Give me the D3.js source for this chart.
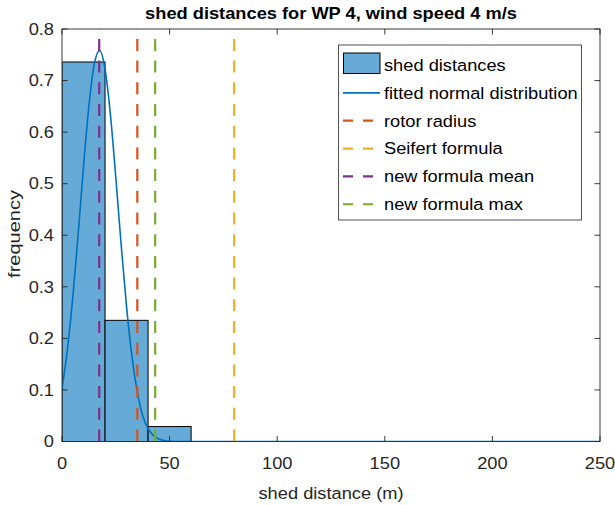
<!DOCTYPE html>
<html><head><meta charset="utf-8">
<script src="https://cdn.jsdelivr.net/npm/d3@7"></script>
<style>body{margin:0;background:#fff}svg{display:block}</style>
</head><body>
<script>
// ---- data ----
const binEdges = [0, 20, 40, 60];
const binFreq = [0.736, 0.235, 0.029];
const fitX = [0, 2.5, 5, 7.5, 10, 12.5, 15, 17.5, 20, 22.5, 25, 27.5, 30, 32.5, 35, 37.5, 40, 42.5, 45, 47.5, 50, 55, 60, 250];
const fitY = [0.102, 0.178, 0.279, 0.402, 0.533, 0.651, 0.732, 0.758, 0.722, 0.634, 0.512, 0.381, 0.261, 0.165, 0.096, 0.050, 0.025, 0.0114, 0.0048, 0.0018, 0.0006, 0.0001, 0, 0];
const refNames = ["rotor radius", "Seifert formula", "new formula mean", "new formula max"];
const refValues = [35, 80, 17.3, 43.3];
const refColors = ["#d95319", "#edb120", "#7e2f8e", "#77ac30"];
const xTicks = [0, 50, 100, 150, 200, 250];
const yTicks = [0, 0.1, 0.2, 0.3, 0.4, 0.5, 0.6, 0.7, 0.8];
const legendNames = ["shed distances", "fitted normal distribution"].concat(refNames);

const W = 615, H = 505;
const L = 62, R = 600, T = 29, B = 441.5;
const SX = 1.12, FS = 16.3;
const svg = d3.select("body").append("svg").attr("width", W).attr("height", H)
  .style("font-family", "'Liberation Sans', Arial, Helvetica, sans-serif");

const x = d3.scaleLinear().domain([0, 250]).range([L, R]);
const y = d3.scaleLinear().domain([0, 0.8]).range([B, T]);

function txt(g, px, py, s, anchor, opts = {}) {
  const tr = opts.rot
    ? `translate(${px},${py}) rotate(-90) scale(${opts.sx || SX},1)`
    : `translate(${px},${py}) scale(${opts.sx || SX},1)`;
  const t = g.append("text")
    .attr("transform", tr)
    .attr("text-anchor", anchor)
    .attr("font-size", opts.fs || FS)
    .attr("fill", opts.fill || "#262626")
    .text(s);
  if (opts.bold) t.attr("font-weight", "bold");
  return t;
}

svg.append("defs").append("clipPath").attr("id", "clip")
  .append("rect").attr("x", L).attr("y", T).attr("width", R - L).attr("height", B - T);
const plot = svg.append("g").attr("clip-path", "url(#clip)");

// histogram bars
plot.selectAll("rect.bar").data(binFreq).enter().append("rect")
  .attr("class", "bar")
  .attr("x", (d, i) => x(binEdges[i]))
  .attr("width", (d, i) => x(binEdges[i + 1]) - x(binEdges[i]))
  .attr("y", d => y(d))
  .attr("height", d => y(0) - y(d))
  .attr("fill", "#66aad7").attr("stroke", "#000").attr("stroke-width", 1);

// fitted normal curve
const fitPts = fitX.map((v, i) => [v, fitY[i]]);
plot.append("path").datum(fitPts)
  .attr("d", d3.line().x(d => x(d[0])).y(d => y(d[1])).curve(d3.curveMonotoneX))
  .attr("fill", "none").attr("stroke", "#0072bd").attr("stroke-width", 1.6);

// reference lines
refValues.forEach((v, i) => {
  plot.append("line")
    .attr("x1", x(v)).attr("x2", x(v)).attr("y1", y(0)).attr("y2", y(0.8))
    .attr("stroke", refColors[i]).attr("stroke-width", 2.2)
    .attr("stroke-dasharray", "12,9.7");
});

// axes box and ticks
const ax = svg.append("g").attr("stroke", "#262626").attr("stroke-width", 0.9);
ax.append("rect").attr("x", L).attr("y", T).attr("width", R - L).attr("height", B - T).attr("fill", "none");
const tl = 5.5;
xTicks.forEach(t => {
  ax.append("line").attr("x1", x(t)).attr("x2", x(t)).attr("y1", B).attr("y2", B - tl);
  ax.append("line").attr("x1", x(t)).attr("x2", x(t)).attr("y1", T).attr("y2", T + tl);
});
yTicks.forEach(t => {
  ax.append("line").attr("x1", L).attr("x2", L + tl).attr("y1", y(t)).attr("y2", y(t));
  ax.append("line").attr("x1", R).attr("x2", R - tl).attr("y1", y(t)).attr("y2", y(t));
});

const labels = svg.append("g");
xTicks.forEach(t => txt(labels, x(t), 469, String(t), "middle"));
yTicks.forEach(t => txt(labels, 54, y(t) + 5.8, String(t), "end"));
txt(labels, (L + R) / 2, 499, "shed distance (m)", "middle");
txt(labels, 19.5, 234, "frequency", "middle", { rot: true, fs: 16, sx: 1.25 });
txt(labels, (L + R) / 2, 19, "shed distances for WP 4, wind speed 4 m/s", "middle", { bold: true, fill: "#000" });

// legend
const lg = svg.append("g");
lg.append("rect").attr("x", 338.5).attr("y", 45).attr("width", 243).attr("height", 175)
  .attr("fill", "#fff").attr("stroke", "#262626").attr("stroke-width", 0.8);
const rowY = i => 65 + i * 27.85;
lg.append("rect").attr("x", 343.5).attr("y", 53).attr("width", 36.5).attr("height", 20.5)
  .attr("fill", "#66aad7").attr("stroke", "#000").attr("stroke-width", 1);
lg.append("line").attr("x1", 343).attr("x2", 380).attr("y1", rowY(1)).attr("y2", rowY(1))
  .attr("stroke", "#0072bd").attr("stroke-width", 1.6);
refColors.forEach((c, i) => {
  lg.append("line").attr("x1", 343).attr("x2", 380).attr("y1", rowY(i + 2)).attr("y2", rowY(i + 2))
    .attr("stroke", c).attr("stroke-width", 2.2).attr("stroke-dasharray", "10,10");
});
legendNames.forEach((n, i) => txt(lg, 384, rowY(i) + 5.8, n, "start", { fill: "#000" }));
</script>
</body></html>
